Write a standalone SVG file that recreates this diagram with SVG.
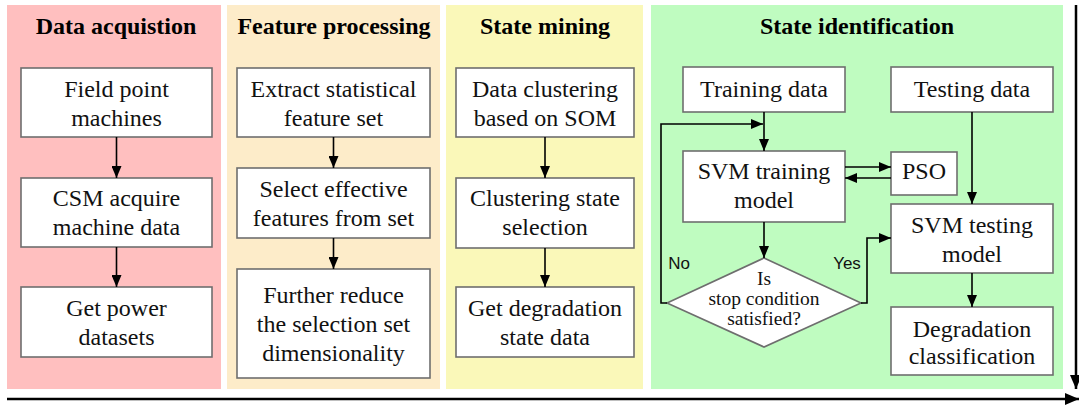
<svg xmlns="http://www.w3.org/2000/svg" width="1079" height="405" viewBox="0 0 1079 405">
  <style>
    text { font-family: Liberation Serif, Times New Roman, serif; }
    .title { font-weight: bold; font-size: 24px; fill: #000; text-anchor: middle; }
    .lbl { font-size: 24px; fill: #111; text-anchor: middle; }
    .dlbl { font-size: 19.5px; fill: #111; text-anchor: middle; }
    .yn { font-family: Liberation Sans, Arial, sans-serif; font-size: 17px; fill: #111; text-anchor: middle; }
    .box { fill: #fff; stroke: #6e6e6e; stroke-width: 1.6; }
    .edge { fill: none; stroke: #000; stroke-width: 1.6; }
    .axis { fill: none; stroke: #000; stroke-width: 2.5; }
  </style>
  <defs>
    <marker id="arr" viewBox="0 0 12 10" refX="12" refY="5" markerWidth="12" markerHeight="10" markerUnits="userSpaceOnUse" orient="auto">
      <path d="M0,0 L12,5 L0,10 Z" fill="#000"/>
    </marker>
    <marker id="axarr" viewBox="0 0 14 12" refX="14" refY="6" markerWidth="14" markerHeight="12" markerUnits="userSpaceOnUse" orient="auto">
      <path d="M0,0 L14,6 L0,12 Z" fill="#000"/>
    </marker>
  </defs>

  <rect width="1079" height="405" fill="#fff"/>

  <!-- stage panels -->
  <g id="panels">
    <rect x="7" y="5" width="214" height="384" fill="#ffbfbf"/>
    <rect x="227" y="5" width="213" height="384" fill="#fdecc9"/>
    <rect x="446" y="5" width="197" height="384" fill="#faf8b9"/>
    <rect x="651" y="5" width="412" height="384" fill="#bffcc0"/>
  </g>

  <g id="titles">
    <text class="title" x="116" y="34">Data acquistion</text>
    <text class="title" x="334" y="34">Feature processing</text>
    <text class="title" x="545" y="34">State mining</text>
    <text class="title" x="857" y="34">State identification</text>
  </g>

  <!-- data acquisition -->
  <g id="field-point-machines">
    <rect class="box" x="21" y="68" width="191" height="69"/>
    <text class="lbl" x="116.5" y="97">Field point</text>
    <text class="lbl" x="116.5" y="126">machines</text>
  </g>
  <g id="csm-acquire">
    <rect class="box" x="21" y="178" width="191" height="69"/>
    <text class="lbl" x="116.5" y="206">CSM acquire</text>
    <text class="lbl" x="116.5" y="235">machine data</text>
  </g>
  <g id="power-datasets">
    <rect class="box" x="21" y="287" width="191" height="70"/>
    <text class="lbl" x="116.5" y="316">Get power</text>
    <text class="lbl" x="116.5" y="345">datasets</text>
  </g>

  <!-- feature processing -->
  <g id="extract-features">
    <rect class="box" x="237" y="68" width="193" height="69"/>
    <text class="lbl" x="333.5" y="97">Extract statistical</text>
    <text class="lbl" x="333.5" y="126">feature set</text>
  </g>
  <g id="select-features">
    <rect class="box" x="237" y="168" width="193" height="70"/>
    <text class="lbl" x="333.5" y="197">Select effective</text>
    <text class="lbl" x="333.5" y="226">features from set</text>
  </g>
  <g id="reduce-dimension">
    <rect class="box" x="237" y="269" width="193" height="109"/>
    <text class="lbl" x="333.5" y="303">Further reduce</text>
    <text class="lbl" x="333.5" y="332">the selection set</text>
    <text class="lbl" x="333.5" y="361">dimensionality</text>
  </g>

  <!-- state mining -->
  <g id="som-clustering">
    <rect class="box" x="456" y="68" width="178" height="69"/>
    <text class="lbl" x="545" y="97">Data clustering</text>
    <text class="lbl" x="545" y="126">based on SOM</text>
  </g>
  <g id="state-selection">
    <rect class="box" x="456" y="178" width="178" height="70"/>
    <text class="lbl" x="545" y="206">Clustering state</text>
    <text class="lbl" x="545" y="235">selection</text>
  </g>
  <g id="degradation-data">
    <rect class="box" x="456" y="287" width="178" height="70"/>
    <text class="lbl" x="545" y="316">Get degradation</text>
    <text class="lbl" x="545" y="345">state data</text>
  </g>

  <!-- state identification -->
  <g id="training-data">
    <rect class="box" x="683" y="67" width="162" height="45"/>
    <text class="lbl" x="764" y="97">Training data</text>
  </g>
  <g id="testing-data">
    <rect class="box" x="891" y="67" width="162" height="45"/>
    <text class="lbl" x="972" y="97">Testing data</text>
  </g>
  <g id="svm-training">
    <rect class="box" x="683" y="151" width="162" height="71"/>
    <text class="lbl" x="764" y="179">SVM training</text>
    <text class="lbl" x="764" y="208">model</text>
  </g>
  <g id="pso">
    <rect class="box" x="891" y="152" width="66" height="43"/>
    <text class="lbl" x="924" y="179">PSO</text>
  </g>
  <g id="stop-condition">
    <polygon class="box" points="764,258 861,303 764,347 667,303"/>
    <text class="dlbl" x="764" y="285">Is</text>
    <text class="dlbl" x="764" y="305">stop condition</text>
    <text class="dlbl" x="764" y="325">satisfied?</text>
  </g>
  <g id="svm-testing">
    <rect class="box" x="891" y="204" width="162" height="69"/>
    <text class="lbl" x="972" y="233">SVM testing</text>
    <text class="lbl" x="972" y="262">model</text>
  </g>
  <g id="degradation-classification">
    <rect class="box" x="891" y="307" width="162" height="68"/>
    <text class="lbl" x="972" y="337">Degradation</text>
    <text class="lbl" x="972" y="364">classification</text>
  </g>

  <!-- time axes -->
  <g id="axes">
    <path class="axis" d="M1076,5 V389" marker-end="url(#axarr)"/>
    <path class="axis" d="M7,399 H1079" marker-end="url(#axarr)"/>
  </g>

  <g id="connectors">
    <path class="edge" d="M116.5,137 V178" marker-end="url(#arr)"/>
    <path class="edge" d="M116.5,247 V287" marker-end="url(#arr)"/>
    <path class="edge" d="M333.5,137 V168" marker-end="url(#arr)"/>
    <path class="edge" d="M333.5,238 V269" marker-end="url(#arr)"/>
    <path class="edge" d="M545,137 V178" marker-end="url(#arr)"/>
    <path class="edge" d="M545,248 V287" marker-end="url(#arr)"/>
    <path class="edge" d="M764,112 V151" marker-end="url(#arr)"/>
    <path class="edge" d="M845,167 H891" marker-end="url(#arr)"/>
    <path class="edge" d="M891,178 H845" marker-end="url(#arr)"/>
    <path class="edge" d="M764,222 V258" marker-end="url(#arr)"/>
    <path class="edge" d="M667,303 H661 V124 H763" marker-end="url(#arr)"/>
    <path class="edge" d="M861,303 H867 V238 H891" marker-end="url(#arr)"/>
    <path class="edge" d="M972,112 V204" marker-end="url(#arr)"/>
    <path class="edge" d="M972,273 V307" marker-end="url(#arr)"/>
    <text class="yn" x="679" y="269">No</text>
    <text class="yn" x="847" y="269">Yes</text>
  </g>
</svg>
